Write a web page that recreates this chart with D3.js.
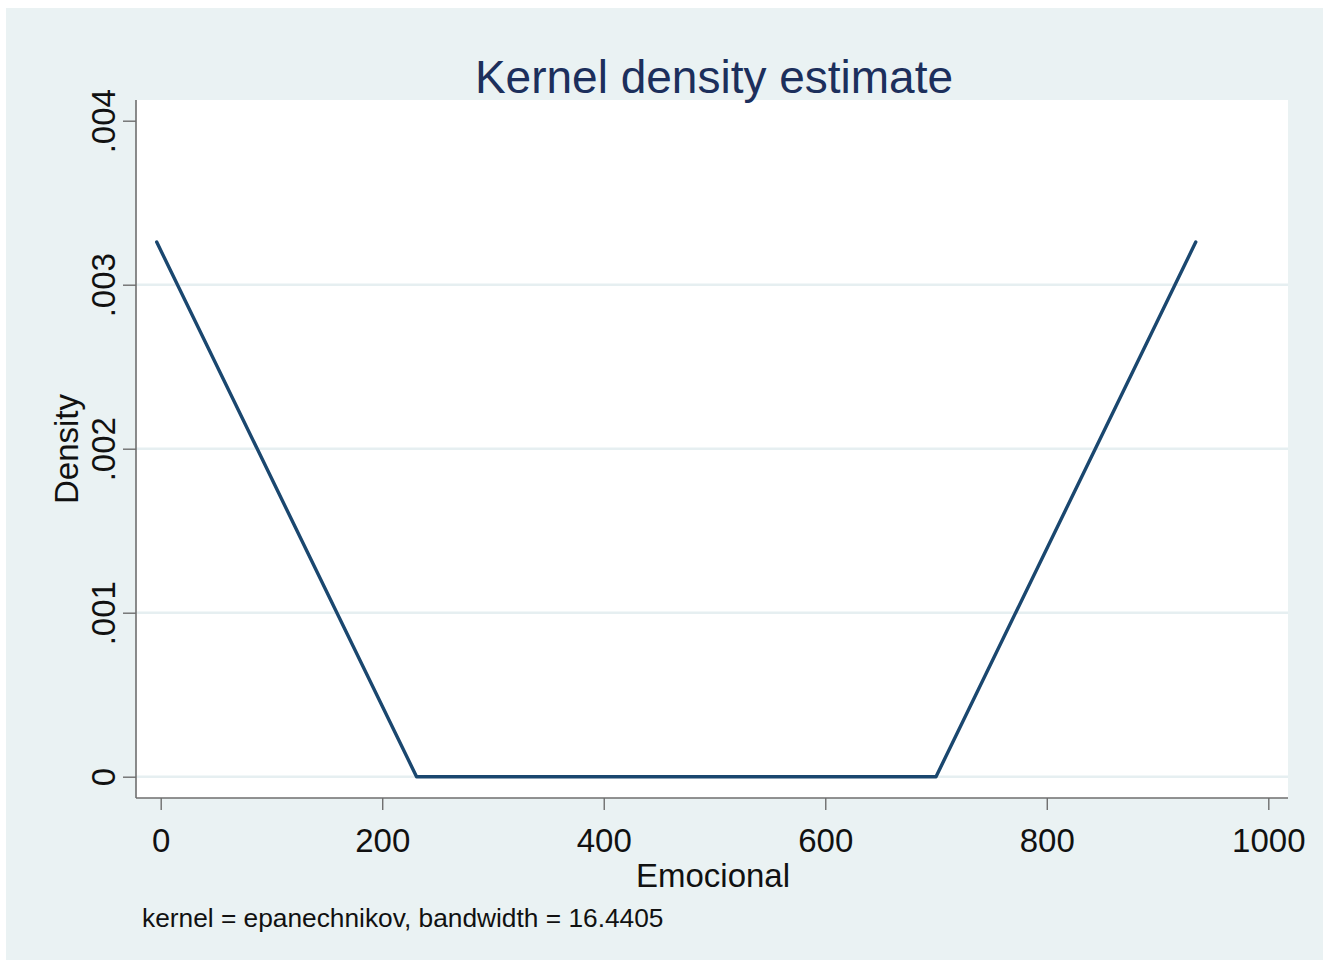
<!DOCTYPE html>
<html>
<head>
<meta charset="utf-8">
<script src="https://cdn.jsdelivr.net/npm/d3@7"></script>
<style>
  html, body { margin: 0; padding: 0; background: #ffffff; }
  svg { display: block; }
  text { font-family: "Liberation Sans", Arial, sans-serif; }
</style>
</head>
<body>
<svg id="chart" width="1326" height="962"></svg>
<script>
// ---- data ----
const titleText = "Kernel density estimate";
const xLabel = "Emocional";
const yLabel = "Density";
const noteText = "kernel = epanechnikov, bandwidth = 16.4405";
const xTicks = [0, 200, 400, 600, 800, 1000];
const yTicks = [0, 0.001, 0.002, 0.003, 0.004];
const yTickLabels = ["0", ".001", ".002", ".003", ".004"];
const gridTicks = [0, 0.001, 0.002, 0.003];
const emocional = [-3.6, 231, 700, 934.5];
const density = [0.00326, 0, 0, 0.00326];

// ---- layout ----
const svg = d3.select("#chart");
const bg = "#eaf2f3";
const navy = "#1a476f";
const axisColor = "#6e6e6e";

svg.append("rect").attr("x", 6).attr("y", 8).attr("width", 1317).attr("height", 952).attr("fill", bg);

const plot = { left: 136, right: 1288, top: 100, bottom: 798 };
svg.append("rect")
  .attr("x", plot.left).attr("y", plot.top)
  .attr("width", plot.right - plot.left).attr("height", plot.bottom - plot.top)
  .attr("fill", "#ffffff");

const x = d3.scaleLinear().domain([0, 1000]).range([160.7, 1268.3]);
const y = d3.scaleLinear().domain([0, 0.004]).range([776.7, 120.7]);

// gridlines
svg.append("g").selectAll("line").data(gridTicks).join("line")
  .attr("x1", plot.left).attr("x2", plot.right)
  .attr("y1", d => y(d)).attr("y2", d => y(d))
  .attr("stroke", "#e6eff1").attr("stroke-width", 2.4);

// density line
const pts = emocional.map((v, i) => [v, density[i]]);
svg.append("path")
  .datum(pts)
  .attr("d", d3.line().x(d => x(d[0])).y(d => y(d[1])))
  .attr("fill", "none").attr("stroke", navy).attr("stroke-width", 3.4)
  .attr("stroke-linejoin", "round").attr("stroke-linecap", "round");

// x axis
const xAxis = d3.axisBottom(x).tickValues(xTicks).tickSize(12).tickPadding(8).tickFormat(d3.format("d"));
const gx = svg.append("g").attr("transform", `translate(0,${plot.bottom})`).call(xAxis);
gx.select(".domain").remove();
gx.append("line").attr("x1", plot.left).attr("x2", plot.right).attr("y1", 0).attr("y2", 0)
  .attr("stroke", axisColor).attr("stroke-width", 1.6);
gx.selectAll(".tick line").attr("stroke", axisColor).attr("stroke-width", 1.4);
gx.selectAll(".tick text").attr("fill", "#111").attr("font-size", 33)
  .attr("dy", null).attr("y", 54);

// y axis
const yAxis = d3.axisLeft(y).tickValues(yTicks).tickSize(13).tickFormat((d, i) => yTickLabels[i]);
const gy = svg.append("g").attr("transform", `translate(${plot.left},0)`).call(yAxis);
gy.select(".domain").remove();
gy.append("line").attr("x1", 0).attr("x2", 0).attr("y1", plot.top).attr("y2", plot.bottom)
  .attr("stroke", axisColor).attr("stroke-width", 1.6);
gy.selectAll(".tick line").attr("stroke", axisColor).attr("stroke-width", 1.4);
gy.selectAll(".tick text")
  .attr("fill", "#111").attr("font-size", 33)
  .attr("x", null).attr("dy", null)
  .attr("text-anchor", "middle")
  .attr("transform", "translate(-21,0) rotate(-90)")
  .attr("y", 0);

// title
svg.append("text").attr("x", 714).attr("y", 93).attr("text-anchor", "middle")
  .attr("font-size", 46).attr("fill", "#1c2f5c").text(titleText);

// axis titles
svg.append("text").attr("x", 713).attr("y", 887).attr("text-anchor", "middle")
  .attr("font-size", 33).attr("fill", "#111").text(xLabel);
svg.append("text").attr("transform", "translate(78,449) rotate(-90)").attr("text-anchor", "middle")
  .attr("font-size", 33).attr("fill", "#111").text(yLabel);

// note
svg.append("text").attr("x", 142).attr("y", 927).attr("font-size", 26.3).attr("fill", "#111").text(noteText);
</script>
</body>
</html>
